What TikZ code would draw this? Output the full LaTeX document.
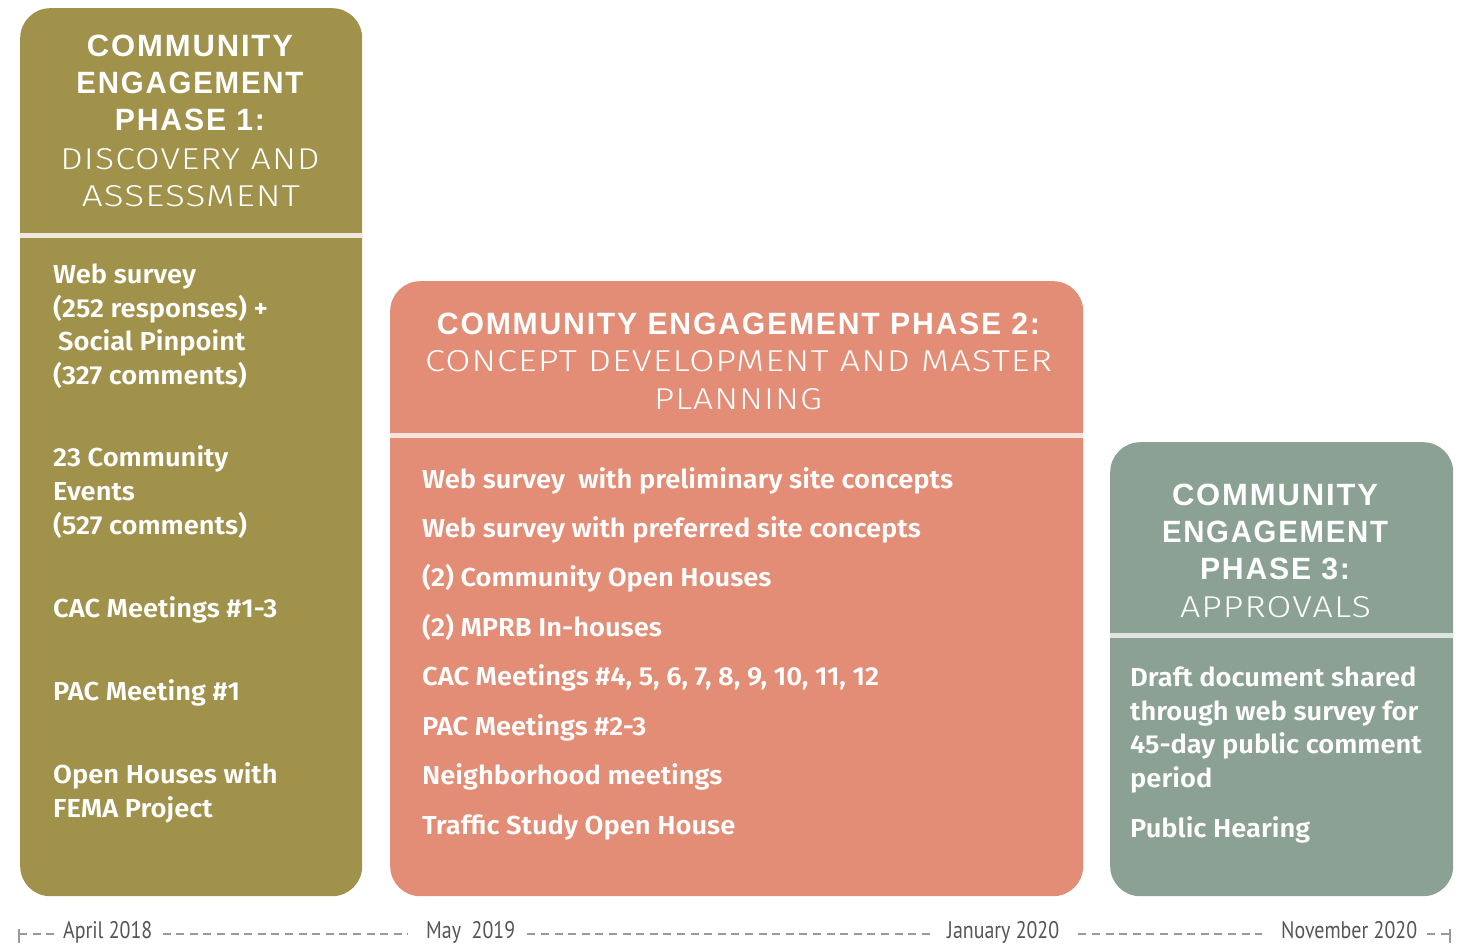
\documentclass[tikz,border=0pt]{standalone}
\usepackage{fontspec}
\usepackage{graphicx}
\setmainfont{PT Sans}
\newfontfamily\hbold{Liberation Sans}[LetterSpace=6]
\newfontfamily\hlight{Fira Sans Light}[LetterSpace=3]
\newfontfamily\bodyfont{Fira Sans SemiBold}[FakeStretch=1.05]
\newfontfamily\tlfont{PT Sans}[FakeStretch=0.83]
\definecolor{olive}{HTML}{A0924B}
\definecolor{salmon}{HTML}{E38D77}
\definecolor{sage}{HTML}{8BA193}
\definecolor{sepA}{HTML}{EEE9DC}
\definecolor{sepB}{HTML}{F8E4DE}
\definecolor{sepC}{HTML}{DFE5E0}
\definecolor{tlgray}{HTML}{9A9A9A}
\definecolor{tltext}{HTML}{555555}
\newcommand\hdrB[2]{\resizebox{#1}{21.5pt}{\fontsize{30}{36}\hbold\bfseries #2}}
\newcommand\hdrL[2]{\resizebox{#1}{21pt}{\fontsize{30}{36}\hlight #2}}
\tikzset{
  phasebox/.style={rounded corners=30pt, anchor=north west, inner sep=0pt, draw=none},
  sepbar/.style={anchor=north west, inner sep=0pt, draw=none, minimum height=5pt},
  hdr/.style={anchor=base, inner sep=0pt, text=white},
  item/.style={anchor=base west, inner sep=0pt, text=white, font=\fontsize{26}{30}\bodyfont},
  tldate/.style={anchor=base west, inner sep=0pt, text=tltext, font=\fontsize{24}{28}\tlfont},
  tlline/.style={draw=tlgray, line width=2pt, dash pattern=on 8pt off 5.6pt},
  tltick/.style={draw=tlgray, line width=1.6pt}
}
\begin{document}
\begin{tikzpicture}[x=1pt,y=-1pt]
\useasboundingbox[fill=white] (0,0) rectangle (1466,944);
% boxes
\node[phasebox, fill=olive, minimum width=342pt, minimum height=888pt] (box1) at (20,8) {};
\node[phasebox, fill=salmon, minimum width=693pt, minimum height=615pt] (box2) at (390,281) {};
\node[phasebox, fill=sage, minimum width=343pt, minimum height=454pt] (box3) at (1110,442) {};
\node[sepbar, fill=sepA, minimum width=342pt] (sep1) at (20,233) {};
\node[sepbar, fill=sepB, minimum width=693pt] (sep2) at (390,433) {};
\node[sepbar, fill=sepC, minimum width=343pt] (sep3) at (1110,633) {};
% phase 1 header
\node[hdr] (h1a) at (190,57) {\hdrB{206pt}{COMMUNITY}};
\node[hdr] (h1b) at (190,94) {\hdrB{227pt}{ENGAGEMENT}};
\node[hdr] (h1c) at (190,131) {\hdrB{150pt}{PHASE 1:}};
\node[hdr] (h1d) at (190,169) {\hdrL{259pt}{DISCOVERY AND}};
\node[hdr] (h1e) at (191,206) {\hdrL{218pt}{ASSESSMENT}};
% phase 2 header
\node[hdr] (h2a) at (738.5,334) {\hdrB{603pt}{COMMUNITY ENGAGEMENT PHASE 2:}};
\node[hdr] (h2b) at (738.5,371) {\hdrL{627pt}{CONCEPT DEVELOPMENT AND MASTER}};
\node[hdr] (h2c) at (738,409) {\hdrL{168pt}{PLANNING}};
% phase 3 header
\node[hdr] (h3a) at (1275,505) {\hdrB{206pt}{COMMUNITY}};
\node[hdr] (h3b) at (1275,542) {\hdrB{226pt}{ENGAGEMENT}};
\node[hdr] (h3c) at (1275,579) {\hdrB{150pt}{PHASE 3:}};
\node[hdr] (h3d) at (1275.5,617) {\hdrL{191pt}{APPROVALS}};
% phase 1 items
\node[item] (i1a) at (53,283) {Web survey};
\node[item] (i1b) at (53,317) {(252 responses) +};
\node[item] (i1c) at (58,350) {Social Pinpoint};
\node[item] (i1d) at (53,384) {(327 comments)};
\node[item] (i1e) at (53,466) {23 Community};
\node[item] (i1f) at (53,500) {Events};
\node[item] (i1g) at (53,534) {(527 comments)};
\node[item] (i1h) at (53,617) {CAC Meetings \#1-3};
\node[item] (i1i) at (53,700) {PAC Meeting \#1};
\node[item] (i1j) at (53,783) {Open Houses with};
\node[item] (i1k) at (53,817) {FEMA Project};
% phase 2 items
\node[item] (i2a) at (422,488) {Web survey\ \ with preliminary site concepts};
\node[item] (i2b) at (422,537) {Web survey with preferred site concepts};
\node[item] (i2c) at (422,586) {(2) Community Open Houses};
\node[item] (i2d) at (422,636) {(2) MPRB In-houses};
\node[item] (i2e) at (422,685) {CAC Meetings \#4, 5, 6, 7, 8, 9, 10, 11, 12};
\node[item] (i2f) at (422,735) {PAC Meetings \#2-3};
\node[item] (i2g) at (422,784) {Neighborhood meetings};
\node[item] (i2h) at (422,834) {Traffic Study Open House};
% phase 3 items
\node[item] (i3a) at (1130,686) {Draft document shared};
\node[item] (i3b) at (1130,720) {through web survey for};
\node[item] (i3c) at (1130,753) {45-day public comment};
\node[item] (i3d) at (1130,787) {period};
\node[item] (i3e) at (1130,837) {Public Hearing};
% timeline
\node[tldate] (d1) at (63,938) {April 2018};
\node[tldate] (d2) at (426,938) {May\ \ 2019};
\node[tldate] (d3) at (947,938) {January 2020};
\node[tldate] (d4) at (1281,938) {November 2020};
\coordinate (tA) at (19,934);
\coordinate (tB) at (1450,934);
\draw[tltick] (19,929) -- (19,943);
\draw[tltick] (1450,929) -- (1450,943);
\draw[tlline] (tA) -- ([xshift=-7pt]d1.west |- tA);
\draw[tlline] ([xshift=10pt]d1.east |- tA) -- ([xshift=-18pt]d2.west |- tA);
\draw[tlline] ([xshift=12pt]d2.east |- tA) -- ([xshift=-17pt]d3.west |- tA);
\draw[tlline] ([xshift=19pt]d3.east |- tA) -- ([xshift=-19pt]d4.west |- tA);
\draw[tlline] ([xshift=10pt]d4.east |- tA) -- (tB);
\end{tikzpicture}
\end{document}
